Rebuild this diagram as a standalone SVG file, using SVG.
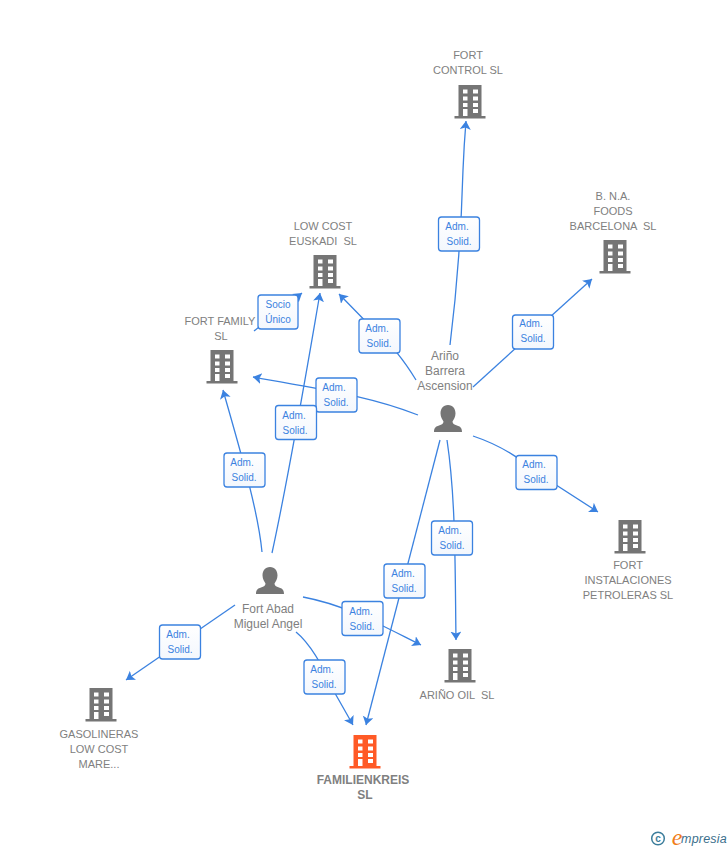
<svg xmlns="http://www.w3.org/2000/svg" width="728" height="850" viewBox="0 0 728 850">
<style>
text{font-family:"Liberation Sans",Arial,sans-serif;text-anchor:middle}
.n{font-size:11px;fill:#808080}
.p{font-size:12px;fill:#808080}
.f{font-size:12px;font-weight:bold;fill:#808080}
.l{font-size:10px;fill:#3b82e0}
.c{fill:none;stroke:#3b82e0;stroke-width:1.300;marker-end:url(#a)}
.b{fill:url(#g);stroke:#3b82e0;stroke-width:1.300}
</style>
<defs>
<linearGradient id="g" x1="0" y1="0" x2="0" y2="1"><stop offset="0" stop-color="#fff"/><stop offset="1" stop-color="#f3f7fd"/></linearGradient>
<marker id="a" markerUnits="userSpaceOnUse" markerWidth="12" markerHeight="12" refX="8.500" refY="5.500" orient="auto"><path d="M0 0L8.500 5.500L0 11L2 5.500Z" fill="#3b82e0"/></marker>
<g id="bld"><path fill-rule="evenodd" d="M-11.500 0H11.500V31H-11.500ZM-7 4.500V8.500H-2.500V4.500ZM3 4.500V8.500H8V4.500ZM-7 11.500V15.500H-2.500V11.500ZM3 11.500V15.500H8V11.500ZM-7 18V22H-2.500V18ZM3 18V22H8V18ZM-7 24V31H-2.500V24ZM3 24V28H8V24Z"/><rect x="-15.500" y="31" width="31" height="2.500"/></g>
<path id="per" d="M0 0C5 0 7.500 4 7.500 8.500C7.500 12 5.500 15 4.500 16.500C4.500 18.500 6 19.500 9 20.500C12 21.500 14 22.500 14 27H-14C-14 22.500 -12 21.500 -9 20.500C-6 19.500 -4.500 18.500 -4.500 16.500C-5.500 15 -7.500 12 -7.500 8.500C-7.500 4 -5 0 0 0Z" fill="#757575"/>
</defs>
<g id="connectors">
<path class="c" d="M450 345C455 305 461 240 463 170Q464 145 466 121"/>
<path class="c" d="M473 387L592 279"/>
<path class="c" d="M416 380C405 362 392 345 379 335L339 294"/>
<path class="c" d="M418 415C365 394 310 388 253 377"/>
<path class="c" d="M473 436C500 445 520 458 536 472L598 512"/>
<path class="c" d="M447 440C456 500 455 570 456 640"/>
<path class="c" d="M440 440L366 725"/>
<path class="c" d="M262 552C258 510 240 450 223 390"/>
<path class="c" d="M272 553C290 470 305 380 320 293"/>
<path class="c" d="M254 331L302 293"/>
<path class="c" d="M235 605L126 680"/>
<path class="c" d="M303 597C345 605 375 622 421 645"/>
<path class="c" d="M296 632C312 645 325 670 336 695L353 725"/>
</g>
<g id="edge-labels">
<g><rect class="b" x="438.500" y="217" width="41" height="34" rx="3"/><text class="l" x="457" y="230">Adm.</text><text class="l" x="459" y="245">Solid.</text></g>
<g><rect class="b" x="512.500" y="315" width="41" height="34" rx="3"/><text class="l" x="531" y="327">Adm.</text><text class="l" x="533" y="342">Solid.</text></g>
<g><rect class="b" x="359" y="319" width="41" height="34" rx="3"/><text class="l" x="377" y="332">Adm.</text><text class="l" x="379" y="347">Solid.</text></g>
<g><rect class="b" x="316" y="378" width="41" height="34" rx="3"/><text class="l" x="334" y="391">Adm.</text><text class="l" x="336" y="406">Solid.</text></g>
<g><rect class="b" x="275.500" y="405.500" width="41" height="34" rx="3"/><text class="l" x="294" y="419">Adm.</text><text class="l" x="295" y="434">Solid.</text></g>
<g><rect class="b" x="258" y="295" width="40" height="34" rx="3"/><text class="l" x="278" y="308">Socio</text><text class="l" x="278" y="323">Único</text></g>
<g><rect class="b" x="224" y="453" width="41" height="34" rx="3"/><text class="l" x="242" y="466">Adm.</text><text class="l" x="244" y="481">Solid.</text></g>
<g><rect class="b" x="516" y="455.500" width="41" height="34" rx="3"/><text class="l" x="534" y="468">Adm.</text><text class="l" x="536" y="483">Solid.</text></g>
<g><rect class="b" x="431.500" y="521" width="41" height="34" rx="3"/><text class="l" x="450" y="534">Adm.</text><text class="l" x="452" y="549">Solid.</text></g>
<g><rect class="b" x="384" y="564" width="41" height="34" rx="3"/><text class="l" x="403" y="577">Adm.</text><text class="l" x="404" y="592">Solid.</text></g>
<g><rect class="b" x="342" y="601.500" width="41" height="34" rx="3"/><text class="l" x="361" y="615">Adm.</text><text class="l" x="362" y="630">Solid.</text></g>
<g><rect class="b" x="304" y="660" width="41" height="34" rx="3"/><text class="l" x="322" y="673">Adm.</text><text class="l" x="324" y="688">Solid.</text></g>
<g><rect class="b" x="159.500" y="625" width="41" height="34" rx="3"/><text class="l" x="178" y="638">Adm.</text><text class="l" x="180" y="653">Solid.</text></g>
</g>
<g id="fort-control"><use href="#bld" x="470" y="85" fill="#757575"/><text class="n" x="468" y="59">FORT</text><text class="n" x="468" y="74">CONTROL SL</text></g>
<g id="bna"><use href="#bld" x="615" y="240" fill="#757575"/><text class="n" x="613" y="200">B. N.A.</text><text class="n" x="613" y="215">FOODS</text><text class="n" x="613" y="230" xml:space="preserve">BARCELONA  SL</text></g>
<g id="low-cost"><use href="#bld" x="325" y="255" fill="#757575"/><text class="n" x="323" y="230">LOW COST</text><text class="n" x="323" y="245" xml:space="preserve">EUSKADI  SL</text></g>
<g id="fort-family"><use href="#bld" x="222" y="350" fill="#757575"/><text class="n" x="220" y="325">FORT FAMILY</text><text class="n" x="221" y="340">SL</text></g>
<g id="arino"><use href="#per" x="448" y="405"/><text class="p" x="445" y="360">Ariño</text><text class="p" x="445" y="375">Barrera</text><text class="p" x="445" y="390">Ascension</text></g>
<g id="fort-inst"><use href="#bld" x="630" y="520" fill="#757575"/><text class="n" x="628" y="569">FORT</text><text class="n" x="628" y="584">INSTALACIONES</text><text class="n" x="628" y="599">PETROLERAS SL</text></g>
<g id="fort-abad"><use href="#per" x="270" y="567"/><text class="p" x="268" y="613">Fort Abad</text><text class="p" x="268" y="628">Miguel Angel</text></g>
<g id="arino-oil"><use href="#bld" x="460" y="649" fill="#757575"/><text class="n" x="457" y="699" xml:space="preserve">ARIÑO OIL  SL</text></g>
<g id="gasolineras"><use href="#bld" x="101" y="688" fill="#757575"/><text class="n" x="99" y="738">GASOLINERAS</text><text class="n" x="99" y="753">LOW COST</text><text class="n" x="99" y="768">MARE...</text></g>
<g id="familienkreis"><use href="#bld" x="365" y="735" fill="#ff5a26"/><text class="f" x="363" y="784">FAMILIENKREIS</text><text class="f" x="365" y="799">SL</text></g>
<g id="logo"><circle cx="658" cy="838.500" r="6.300" fill="none" stroke="#3c7d9b" stroke-width="1.500"/><text x="658" y="842" style="font-size:10px;font-weight:bold;fill:#3c7d9b">c</text><text x="677" y="845" style="font-size:24px;font-style:italic;fill:#f07d1a;font-family:'Liberation Serif',serif">e</text><text x="704" y="843" style="font-size:12.500px;font-style:italic;fill:#3c6f8c;letter-spacing:.2px">mpresia</text></g>
</svg>
